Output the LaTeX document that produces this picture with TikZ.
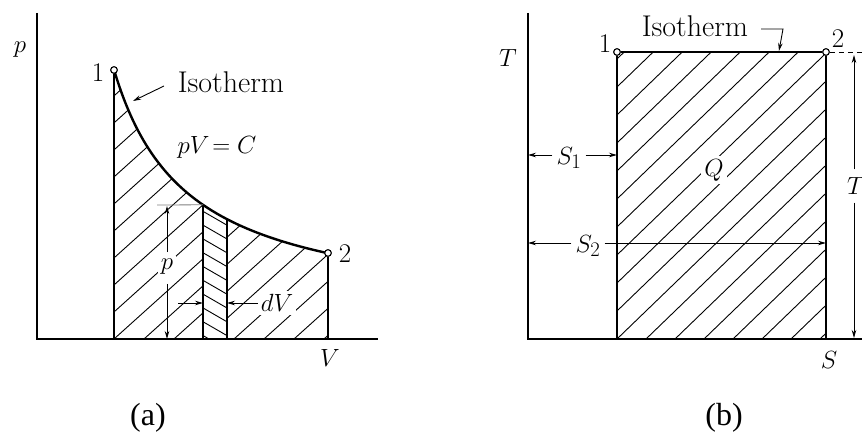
\documentclass[tikz,border=0pt]{standalone}
\usepackage{fontspec}
\newfontfamily\capfont{Liberation Serif}
\usetikzlibrary{arrows.meta}
\begin{document}
\begin{tikzpicture}[x=1pt,y=-1pt,
  axis/.style={line width=1.8pt},
  bold/.style={line width=2.4pt},
  hatchline/.style={line width=0.9pt},
  dimline/.style={line width=0.9pt,-{Stealth[length=8pt,width=4.5pt]}},
  lbl/.style={font=\fontsize{28}{33}\selectfont, inner sep=0pt},
  txt/.style={font=\fontsize{30}{35}\selectfont, inner sep=0pt},
  num/.style={font=\fontsize{27}{32}\selectfont, inner sep=0pt},
  captext/.style={font=\capfont\fontsize{32}{38}\selectfont, inner sep=0pt},
  onhatch/.style={fill=white, inner sep=3pt},
  ptmark/.style={circle, draw, line width=1pt, fill=white, minimum size=6.5pt, inner sep=0pt}]

\useasboundingbox (0,0) rectangle (862,435);

% ================= panel (a) =================
\coordinate (aTop) at (37,13);
\coordinate (aO) at (37,339);
\coordinate (aEnd) at (378,339);

% hatching of main area (excluding strip)
\begin{scope}
  \clip (114,339) -- (114,70) -- plot[domain=114:328, samples=60] (\x,{316-180.3/((\x-40.8)/100)}) -- (328,339) -- cycle;
  \clip (114,0) rectangle (203,345) (227,0) rectangle (328,345);
  \foreach \k in {-11,...,8}
    \draw[hatchline] (114+\k*30,339) -- ++(-42:520);
\end{scope}
% hatching of the strip
\begin{scope}
  \clip (114,339) -- (114,70) -- plot[domain=114:328, samples=60] (\x,{316-180.3/((\x-40.8)/100)}) -- (328,339) -- cycle;
  \clip (203,0) rectangle (227,345);
  \foreach \k in {0,...,13}
    \draw[hatchline] (200,{182+\k*13.8}) -- ++(30:40);
\end{scope}

\draw[axis] (aTop) -- (aO) -- (aEnd);

\node[ptmark] (a1) at (114,70) {};
\node[ptmark] (a2) at (328,253) {};
\coordinate (a1b) at (114,339);
\coordinate (a2b) at (328,339);
\coordinate (sLt) at (203,204.8);
\coordinate (sLb) at (203,339);
\coordinate (sRt) at (227,219.2);
\coordinate (sRb) at (227,339);

\draw[axis] (a1) -- (a1b);
\draw[axis] (a2) -- (a2b);
\draw[axis] (sLt) -- (sLb);
\draw[axis] (sRt) -- (sRb);
\draw[bold] plot[domain=114:328, samples=80, smooth] (\x,{316-180.3/((\x-40.8)/100)});
\node[ptmark] at (a1) {};
\node[ptmark] at (a2) {};

\node[lbl] (la) at (20,50) {$p$};
\node[num] (l1a) at (98,73) {1};
\node[num] (l2a) at (345,254) {2};
\node[txt] (isoa) at (231,82) {Isotherm};
\coordinate (isoaTail) at (164,86);
\coordinate (isoaTip) at (133,101);
\draw[dimline] (isoaTail) -- (isoaTip);
\node[lbl] (pvc) at (217,147) {$pV\!=C$};

% p dimension
\coordinate (ptop) at (167,206);
\coordinate (pbot) at (167,339);
\coordinate (dashL) at (157,205);
\draw[line width=0.8pt, gray] (dashL) -- (sLt);
\node[lbl, onhatch] (ps) at (167,267) {$p$};
\draw[dimline, shorten <=4pt] (ps) -- (ptop);
\draw[dimline, shorten <=6pt] (ps) -- (pbot);

% dV
\coordinate (dvL) at (178,303);
\coordinate (dvLa) at (203,303);
\coordinate (dvRa) at (227,303);
\draw[dimline] (dvL) -- (dvLa);
\node[lbl, onhatch] (dv) at (277,303) {$dV$};
\draw[dimline] (dv.west) -- (dvRa);

\node[lbl] (Va) at (330,358) {$V$};
\node[captext] (capa) at (148,418) {(a)};

% ================= panel (b) =================
\coordinate (bTop) at (528,13);
\coordinate (bO) at (528,339);
\coordinate (bEnd) at (862,339);

\begin{scope}
  \clip (617,52) rectangle (826,339);
  \foreach \k in {-11,...,8}
    \draw[hatchline] (617+\k*29,339) -- ++(-44:520);
\end{scope}

\draw[axis] (bTop) -- (bO) -- (bEnd);

\node[ptmark] (b1) at (617,52) {};
\node[ptmark] (b2) at (826,52) {};
\coordinate (b1b) at (617,339);
\coordinate (b2b) at (826,339);
\draw[axis] (b1) -- (b2);
\draw[axis] (b1) -- (b1b);
\draw[axis] (b2) -- (b2b);
\node[ptmark] at (b1) {};
\node[ptmark] at (b2) {};
\coordinate (bRight) at (862,52);
\draw[line width=0.9pt, dash pattern=on 5pt off 4pt] (b2) -- (bRight);

\node[lbl] (Tb) at (508,58) {$T$};
\node[num] (l1b) at (605,44) {1};
\node[num] (l2b) at (838,39) {2};
\node[txt] (isob) at (695,26) {Isotherm};
\coordinate (iso1) at (761,29);
\coordinate (iso2) at (783,29);
\coordinate (isoTip) at (779,51);
\draw[dimline] (iso1) -- (iso2) -- (isoTip);

% S1
\node[lbl, inner sep=4pt] (S1) at (569,158) {$S_1$};
\coordinate (s1L) at (528,155);
\coordinate (s1R) at (617,155);
\draw[dimline] (S1.west |- s1L) -- (s1L);
\draw[dimline] (S1.east |- s1R) -- (s1R);

% S2
\node[lbl, inner sep=4pt] (S2) at (588,246) {$S_2$};
\coordinate (s2L) at (528,243);
\coordinate (s2R) at (826,243);
\draw[dimline] (S2.west |- s2L) -- (s2L);
\draw[dimline] (S2.east |- s2R) -- (s2R);

\node[lbl, onhatch] (Q) at (714,170) {$Q$};

% T dimension
\node[lbl, inner sep=8pt] (Tr) at (856,186) {$T$};
\coordinate (tTop) at (854,55);
\coordinate (tBot) at (854,338);
\draw[dimline] (Tr.north -| tTop) -- (tTop);
\draw[dimline] (Tr.south -| tBot) -- (tBot);

\node[lbl] (Sb) at (829,360) {$S$};
\node[captext] (capb) at (724,418) {(b)};
\end{tikzpicture}
\end{document}
